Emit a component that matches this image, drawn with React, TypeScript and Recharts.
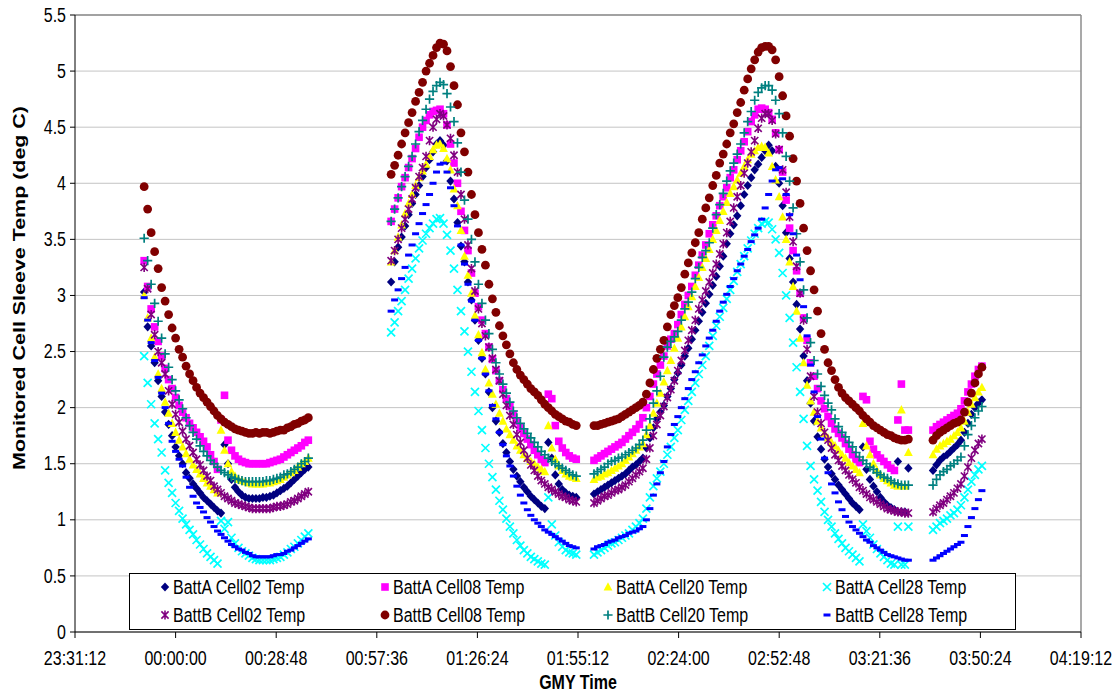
import { ScatterChart, Scatter, XAxis, YAxis, CartesianGrid, ReferenceLine } from 'recharts';

// x axis, minutes relative to 00:00:00 (23:31:12 is the day before)
const xTickLabels = ['23:31:12', '00:00:00', '00:28:48', '00:57:36', '01:26:24', '01:55:12', '02:24:00', '02:52:48', '03:21:36', '03:50:24', '04:19:12'];
const yTicks = [0, 0.5, 1, 1.5, 2, 2.5, 3, 3.5, 4, 4.5, 5, 5.5];

// four telemetry passes, one sample per minute
const segStart = [-9.0, 61.7, 119.78, 216.83];
const sampleStep = 1;

const battACell02 = [
  [3.03, 2.72, 2.55, 2.40, 2.24, 2.10, 1.96, 1.85, 1.75, 1.65, 1.57, 1.50, 1.42, 1.37, 1.32, 1.28, 1.24, 1.20, 1.17, 1.14, 1.11, 1.08, 1.06, 1.67, 1.50, 1.36, 1.29, 1.25, 1.22, 1.20, 1.19, 1.19, 1.19, 1.19, 1.20, 1.20, 1.21, 1.22, 1.24, 1.26, 1.28, 1.30, 1.33, 1.36, 1.39, 1.42, 1.45, 1.47],
  [3.12, 3.30, 3.43, 3.52, 3.62, 3.72, 3.82, 3.90, 3.98, 4.06, 4.14, 4.21, 4.28, 4.35, 4.38, 4.34, 4.20, 4.02, 3.86, 3.65, 3.44, 3.30, 3.12, 2.96, 2.78, 2.60, 2.44, 2.30, 2.14, 2.00, 1.88, 1.78, 1.68, 1.60, 1.52, 1.45, 1.39, 1.34, 1.29, 1.25, 1.21, 1.18, 1.15, 1.12, 1.10, 1.69, 1.55, 1.40, 1.32, 1.27, 1.24, 1.22, 1.21, 1.20],
  [1.23, 1.25, 1.27, 1.29, 1.31, 1.33, 1.35, 1.37, 1.39, 1.41, 1.44, 1.47, 1.49, 1.52, 1.55,
   1.64, 1.73, 1.82, 1.90, 1.96, 2.02, 2.10, 2.17, 2.25, 2.31, 2.38, 2.46, 2.53, 2.61, 2.69,
   2.77, 2.85, 2.93, 3.01, 3.09, 3.17, 3.26, 3.35, 3.46, 3.55, 3.63, 3.71, 3.80, 3.90, 3.98,
   4.05, 4.12, 4.17, 4.23, 4.29, 4.34, 4.29, 4.15, 4.00, 3.80, 3.56, 3.33, 3.12, 2.92, 2.70,
   2.46, 2.24, 2.04, 1.88, 1.74, 1.63, 1.54, 1.47, 1.41, 1.36, 1.31, 1.27, 1.23, 1.19, 1.15,
   1.12, 1.09, 1.65, 1.45, 1.36, 1.30, 1.25, 1.20, 1.16, 1.13, 1.11, 1.09, 1.52, 1.07, 1.07, 1.46],
  [1.44, 1.49, 1.53, 1.56, 1.58, 1.61, 1.64, 1.67, 1.71, 1.78, 1.86, 1.94, 2.00, 2.04, 2.07],
];

const battACell08 = [
  [3.31, 3.08, 2.88, 2.72, 2.59, 2.46, 2.35, 2.25, 2.17, 2.09, 2.02, 1.96, 1.91, 1.86, 1.82, 1.78, 1.74, 1.70, 1.65, 1.58, 1.52, 1.45, 1.89, 2.11, 1.71, 1.62, 1.57, 1.54, 1.52, 1.51, 1.50, 1.50, 1.50, 1.50, 1.50, 1.50, 1.51, 1.52, 1.53, 1.54, 1.56, 1.58, 1.60, 1.62, 1.64, 1.66, 1.69, 1.71],
  [3.66, 3.77, 3.87, 3.97, 4.05, 4.14, 4.22, 4.31, 4.41, 4.50, 4.56, 4.61, 4.64, 4.65, 4.66, 4.62, 4.52, 4.35, 4.18, 4.00, 3.75, 3.58, 3.40, 3.20, 3.02, 2.90, 2.78, 2.66, 2.54, 2.43, 2.33, 2.24, 2.16, 2.08, 2.01, 1.94, 1.88, 1.82, 1.77, 1.72, 1.67, 1.62, 1.58, 1.54, 1.51, 2.12, 2.08, 1.84, 1.70, 1.64, 1.60, 1.57, 1.55, 1.54],
  [1.53, 1.55, 1.57, 1.59, 1.61, 1.63, 1.65, 1.67, 1.69, 1.72, 1.75, 1.78, 1.81, 1.85, 1.91,
   2.00, 2.10, 2.21, 2.30, 2.38, 2.46, 2.55, 2.61, 2.66, 2.74, 2.83, 2.92, 3.00, 3.08, 3.18,
   3.27, 3.36, 3.45, 3.55, 3.63, 3.71, 3.80, 3.88, 3.96, 4.05, 4.12, 4.21, 4.29, 4.37, 4.46,
   4.55, 4.61, 4.66, 4.67, 4.66, 4.63, 4.57, 4.45, 4.30, 4.10, 3.85, 3.60, 3.40, 3.22, 3.02,
   2.80, 2.60, 2.40, 2.28, 2.17, 2.06, 1.99, 1.92, 1.86, 1.81, 1.77, 1.73, 1.68, 1.63, 1.58,
   1.54, 1.51, 2.10, 2.07, 1.70, 1.63, 1.58, 1.55, 1.52, 1.49, 1.46, 1.44, 1.89, 2.21, 1.80, 1.80],
  [1.80, 1.83, 1.85, 1.87, 1.89, 1.91, 1.93, 1.95, 1.99, 2.06, 2.14, 2.21, 2.28, 2.34, 2.37],
];

const battACell20 = [
  [3.00, 2.80, 2.62, 2.45, 2.30, 2.17, 2.05, 1.95, 1.86, 1.78, 1.71, 1.65, 1.59, 1.54, 1.49, 1.45, 1.41, 1.37, 1.33, 1.30, 1.27, 1.24, 1.80, 1.62, 1.50, 1.43, 1.39, 1.36, 1.35, 1.34, 1.33, 1.32, 1.32, 1.32, 1.32, 1.33, 1.33, 1.34, 1.35, 1.36, 1.38, 1.40, 1.42, 1.44, 1.47, 1.50, 1.52, 1.55],
  [3.30, 3.40, 3.52, 3.63, 3.73, 3.82, 3.90, 3.98, 4.05, 4.11, 4.17, 4.24, 4.30, 4.34, 4.35, 4.31, 4.22, 4.12, 3.95, 3.80, 3.58, 3.35, 3.18, 3.02, 2.82, 2.65, 2.49, 2.34, 2.22, 2.12, 2.03, 1.95, 1.88, 1.81, 1.76, 1.71, 1.66, 1.62, 1.58, 1.55, 1.52, 1.50, 1.47, 1.45, 1.43, 1.84, 1.64, 1.54, 1.48, 1.44, 1.41, 1.39, 1.38, 1.37],
  [1.36, 1.38, 1.39, 1.41, 1.42, 1.44, 1.46, 1.48, 1.50, 1.53, 1.56, 1.59, 1.62, 1.65, 1.68,
   1.76, 1.84, 1.95, 2.04, 2.13, 2.23, 2.33, 2.42, 2.53, 2.62, 2.72, 2.81, 2.90, 2.99, 3.08,
   3.16, 3.25, 3.33, 3.41, 3.50, 3.58, 3.67, 3.75, 3.83, 3.91, 3.97, 4.03, 4.09, 4.15, 4.21,
   4.26, 4.29, 4.32, 4.33, 4.32, 4.27, 4.15, 4.03, 3.88, 3.70, 3.50, 3.30, 3.08, 2.86, 2.62,
   2.40, 2.20, 2.06, 1.96, 1.88, 1.82, 1.77, 1.73, 1.69, 1.66, 1.62, 1.58, 1.55, 1.51, 1.48,
   1.45, 1.42, 1.86, 1.66, 1.58, 1.50, 1.44, 1.40, 1.37, 1.35, 1.33, 1.31, 1.30, 1.98, 1.30, 1.60],
  [1.58, 1.63, 1.66, 1.68, 1.70, 1.72, 1.75, 1.78, 1.82, 1.88, 1.96, 2.03, 2.09, 2.14, 2.18],
];

const battACell28 = [
  [2.46, 2.22, 2.03, 1.86, 1.72, 1.60, 1.44, 1.33, 1.24, 1.15, 1.08, 1.01, 0.96, 0.91, 0.87, 0.82, 0.78, 0.74, 0.70, 0.67, 0.64, 0.61, 0.99, 0.92, 0.98, 0.84, 0.79, 0.75, 0.72, 0.70, 0.68, 0.66, 0.65, 0.64, 0.64, 0.64, 0.64, 0.65, 0.66, 0.67, 0.69, 0.71, 0.74, 0.76, 0.79, 0.82, 0.85, 0.88],
  [2.67, 2.76, 2.86, 2.95, 3.05, 3.15, 3.24, 3.33, 3.42, 3.49, 3.55, 3.60, 3.64, 3.68, 3.69, 3.64, 3.54, 3.40, 3.24, 3.05, 2.86, 2.68, 2.50, 2.32, 2.14, 1.97, 1.80, 1.64, 1.50, 1.38, 1.27, 1.17, 1.09, 1.01, 0.94, 0.88, 0.82, 0.77, 0.73, 0.70, 0.67, 0.65, 0.63, 0.61, 0.60, 1.20, 0.96, 0.86, 0.80, 0.76, 0.73, 0.71, 0.70, 0.69],
  [0.69, 0.71, 0.73, 0.75, 0.77, 0.79, 0.80, 0.82, 0.84, 0.86, 0.88, 0.91, 0.94, 0.97, 1.01,
   1.10, 1.20, 1.30, 1.37, 1.43, 1.50, 1.58, 1.65, 1.73, 1.80, 1.89, 1.98, 2.06, 2.14, 2.22,
   2.30, 2.38, 2.46, 2.55, 2.64, 2.73, 2.81, 2.89, 2.97, 3.05, 3.13, 3.21, 3.28, 3.35, 3.42,
   3.49, 3.55, 3.60, 3.64, 3.66, 3.65, 3.59, 3.50, 3.38, 3.20, 3.00, 2.80, 2.58, 2.36, 2.14,
   1.90, 1.66, 1.48, 1.36, 1.26, 1.16, 1.07, 1.00, 0.94, 0.88, 0.83, 0.79, 0.75, 0.72, 0.69,
   0.66, 0.63, 0.96, 0.90, 0.84, 0.78, 0.74, 0.70, 0.67, 0.64, 0.61, 0.60, 0.94, 0.60, 0.60, 0.94],
  [0.91, 0.94, 0.97, 0.99, 1.01, 1.04, 1.06, 1.09, 1.13, 1.20, 1.27, 1.34, 1.40, 1.45, 1.48],
];

const battBCell02 = [
  [3.25, 3.06, 2.83, 2.65, 2.50, 2.40, 2.30, 2.15, 2.03, 1.94, 1.87, 1.79, 1.72, 1.66, 1.60, 1.54, 1.49, 1.44, 1.39, 1.35, 1.30, 1.27, 1.24, 1.21, 1.19, 1.17, 1.15, 1.14, 1.13, 1.12, 1.11, 1.10, 1.10, 1.10, 1.10, 1.10, 1.10, 1.11, 1.12, 1.12, 1.13, 1.14, 1.16, 1.17, 1.19, 1.21, 1.23, 1.25],
  [3.31, 3.40, 3.50, 3.60, 3.68, 3.77, 3.86, 3.96, 4.06, 4.14, 4.24, 4.38, 4.50, 4.57, 4.62, 4.60, 4.52, 4.40, 4.25, 4.10, 3.90, 3.68, 3.45, 3.24, 3.04, 2.88, 2.75, 2.64, 2.54, 2.44, 2.34, 2.24, 2.12, 2.02, 1.93, 1.85, 1.76, 1.69, 1.62, 1.55, 1.49, 1.44, 1.39, 1.35, 1.32, 1.29, 1.27, 1.25, 1.23, 1.21, 1.20, 1.18, 1.17, 1.16],
  [1.15, 1.17, 1.19, 1.21, 1.22, 1.24, 1.26, 1.27, 1.29, 1.31, 1.34, 1.37, 1.40, 1.43, 1.46,
   1.54, 1.64, 1.75, 1.85, 1.93, 2.01, 2.09, 2.16, 2.24, 2.33, 2.42, 2.51, 2.60, 2.69, 2.78,
   2.88, 2.96, 3.04, 3.12, 3.20, 3.28, 3.37, 3.46, 3.56, 3.66, 3.78, 3.88, 3.98, 4.09, 4.18,
   4.28, 4.38, 4.49, 4.58, 4.62, 4.62, 4.56, 4.44, 4.30, 4.12, 3.92, 3.70, 3.48, 3.26, 3.02,
   2.78, 2.52, 2.28, 2.10, 1.96, 1.86, 1.78, 1.71, 1.64, 1.58, 1.53, 1.48, 1.44, 1.40, 1.36,
   1.33, 1.29, 1.26, 1.23, 1.20, 1.18, 1.16, 1.14, 1.12, 1.10, 1.09, 1.08, 1.07, 1.07, 1.06, 1.06],
  [1.07, 1.10, 1.13, 1.15, 1.18, 1.21, 1.24, 1.28, 1.32, 1.39, 1.47, 1.55, 1.62, 1.68, 1.72],
];

const battBCell08 = [
  [3.97, 3.77, 3.56, 3.39, 3.24, 3.07, 2.95, 2.83, 2.71, 2.62, 2.52, 2.45, 2.37, 2.30, 2.24, 2.18, 2.13, 2.09, 2.05, 2.01, 1.97, 1.93, 1.90, 1.87, 1.85, 1.83, 1.81, 1.80, 1.79, 1.78, 1.77, 1.77, 1.78, 1.77, 1.78, 1.78, 1.77, 1.78, 1.79, 1.80, 1.80, 1.82, 1.83, 1.85, 1.86, 1.88, 1.89, 1.91],
  [4.08, 4.16, 4.25, 4.35, 4.45, 4.54, 4.63, 4.73, 4.81, 4.90, 5.00, 5.07, 5.14, 5.21, 5.25, 5.24, 5.18, 5.04, 4.87, 4.70, 4.45, 4.28, 4.10, 3.90, 3.72, 3.56, 3.41, 3.27, 3.10, 2.97, 2.85, 2.73, 2.64, 2.56, 2.48, 2.40, 2.34, 2.29, 2.25, 2.21, 2.17, 2.14, 2.11, 2.07, 2.03, 2.00, 1.97, 1.94, 1.92, 1.90, 1.88, 1.87, 1.85, 1.84],
  [1.84, 1.84, 1.85, 1.86, 1.87, 1.88, 1.89, 1.90, 1.92, 1.94, 1.96, 1.98, 2.00, 2.02, 2.05,
   2.12, 2.22, 2.34, 2.44, 2.52, 2.60, 2.72, 2.83, 2.91, 2.98, 3.07, 3.19, 3.29, 3.38, 3.47,
   3.56, 3.68, 3.78, 3.87, 3.98, 4.07, 4.18, 4.26, 4.35, 4.45, 4.53, 4.63, 4.72, 4.83, 4.93,
   5.02, 5.10, 5.17, 5.21, 5.22, 5.22, 5.19, 5.10, 4.95, 4.78, 4.60, 4.42, 4.22, 4.02, 3.82,
   3.60, 3.40, 3.22, 3.05, 2.86, 2.66, 2.52, 2.40, 2.33, 2.25, 2.18, 2.13, 2.09, 2.06, 2.03,
   2.00, 1.97, 1.93, 1.90, 1.87, 1.84, 1.82, 1.80, 1.78, 1.76, 1.75, 1.73, 1.72, 1.71, 1.71, 1.72],
  [1.71, 1.75, 1.78, 1.80, 1.82, 1.84, 1.86, 1.87, 1.89, 1.96, 2.05, 2.13, 2.22, 2.30, 2.36],
];

const battBCell20 = [
  [3.51, 3.31, 3.10, 2.93, 2.77, 2.62, 2.48, 2.36, 2.25, 2.15, 2.07, 1.99, 1.91, 1.84, 1.78, 1.72, 1.66, 1.61, 1.57, 1.53, 1.50, 1.47, 1.44, 1.42, 1.40, 1.38, 1.37, 1.36, 1.35, 1.34, 1.34, 1.34, 1.34, 1.34, 1.34, 1.35, 1.35, 1.36, 1.37, 1.38, 1.40, 1.41, 1.43, 1.45, 1.47, 1.50, 1.52, 1.55],
  [3.66, 3.77, 3.87, 3.97, 4.06, 4.15, 4.24, 4.35, 4.46, 4.56, 4.66, 4.75, 4.82, 4.87, 4.90, 4.88, 4.80, 4.68, 4.55, 4.36, 4.10, 3.85, 3.68, 3.50, 3.30, 3.10, 2.93, 2.78, 2.66, 2.52, 2.40, 2.30, 2.21, 2.13, 2.05, 1.97, 1.91, 1.86, 1.81, 1.77, 1.73, 1.69, 1.65, 1.61, 1.58, 1.55, 1.52, 1.50, 1.48, 1.46, 1.44, 1.42, 1.40, 1.39],
  [1.41, 1.43, 1.45, 1.47, 1.50, 1.52, 1.53, 1.55, 1.56, 1.58, 1.60, 1.62, 1.64, 1.67, 1.71,
   1.80, 1.90, 2.04, 2.15, 2.28, 2.45, 2.54, 2.59, 2.63, 2.68, 2.78, 2.88, 2.94, 3.03, 3.15,
   3.25, 3.34, 3.40, 3.47, 3.60, 3.72, 3.81, 3.91, 4.02, 4.11, 4.18, 4.26, 4.35, 4.45, 4.55,
   4.64, 4.74, 4.81, 4.85, 4.87, 4.87, 4.83, 4.74, 4.62, 4.45, 4.24, 4.02, 3.78, 3.55, 3.30,
   3.05, 2.80, 2.58, 2.42, 2.30, 2.19, 2.11, 2.04, 1.98, 1.90, 1.83, 1.78, 1.74, 1.69, 1.65,
   1.60, 1.56, 1.53, 1.50, 1.47, 1.45, 1.42, 1.40, 1.38, 1.37, 1.35, 1.33, 1.32, 1.31, 1.31, 1.31],
  [1.31, 1.36, 1.40, 1.43, 1.45, 1.48, 1.50, 1.53, 1.56, 1.66, 1.76, 1.84, 1.91, 1.97, 2.01],
];

const battBCell28 = [
  [2.98, 2.78, 2.58, 2.42, 2.27, 2.13, 2.00, 1.86, 1.70, 1.61, 1.54, 1.48, 1.38, 1.29, 1.21, 1.15, 1.11, 1.07, 1.02, 0.98, 0.94, 0.90, 0.87, 0.84, 0.81, 0.78, 0.76, 0.74, 0.73, 0.71, 0.70, 0.68, 0.67, 0.67, 0.67, 0.67, 0.67, 0.68, 0.69, 0.69, 0.70, 0.72, 0.73, 0.75, 0.77, 0.79, 0.81, 0.83],
  [2.86, 2.96, 3.05, 3.15, 3.25, 3.36, 3.45, 3.55, 3.64, 3.73, 3.81, 3.90, 4.00, 4.10, 4.17, 4.18, 4.10, 3.96, 3.80, 3.62, 3.45, 3.28, 3.10, 2.95, 2.78, 2.60, 2.44, 2.30, 2.15, 2.02, 1.90, 1.78, 1.67, 1.57, 1.48, 1.39, 1.30, 1.22, 1.15, 1.09, 1.04, 1.00, 0.97, 0.94, 0.91, 0.89, 0.87, 0.85, 0.83, 0.81, 0.79, 0.77, 0.76, 0.75],
  [0.74, 0.76, 0.77, 0.78, 0.80, 0.81, 0.82, 0.84, 0.85, 0.86, 0.88, 0.89, 0.90, 0.92, 0.94,
   1.00, 1.10, 1.22, 1.32, 1.42, 1.52, 1.65, 1.76, 1.85, 1.92, 2.00, 2.08, 2.17, 2.25, 2.32,
   2.40, 2.47, 2.55, 2.62, 2.69, 2.77, 2.86, 2.94, 3.01, 3.08, 3.15, 3.22, 3.28, 3.35, 3.41,
   3.48, 3.54, 3.60, 3.68, 3.78, 3.90, 4.02, 4.12, 4.14, 4.04, 3.90, 3.72, 3.55, 3.36, 3.14,
   2.90, 2.64, 2.38, 2.14, 1.92, 1.72, 1.55, 1.42, 1.32, 1.24, 1.16, 1.09, 1.03, 0.98, 0.94,
   0.91, 0.88, 0.85, 0.82, 0.80, 0.77, 0.75, 0.73, 0.71, 0.69, 0.68, 0.67, 0.66, 0.65, 0.64, 0.64],
  [0.64, 0.66, 0.68, 0.70, 0.72, 0.74, 0.76, 0.78, 0.80, 0.86, 0.94, 1.02, 1.10, 1.18, 1.26],
];

type Kind = 'diamond' | 'square' | 'triangle' | 'x' | 'star' | 'circle' | 'plus' | 'dash';

const series: { name: string; color: string; kind: Kind; values: number[][] }[] = [
  { name: 'BattA Cell02 Temp', color: '#000080', kind: 'diamond', values: battACell02 },
  { name: 'BattA Cell08 Temp', color: '#FF00FF', kind: 'square', values: battACell08 },
  { name: 'BattA Cell20 Temp', color: '#FFFF00', kind: 'triangle', values: battACell20 },
  { name: 'BattA Cell28 Temp', color: '#00FFFF', kind: 'x', values: battACell28 },
  { name: 'BattB Cell02 Temp', color: '#800080', kind: 'star', values: battBCell02 },
  { name: 'BattB Cell08 Temp', color: '#800000', kind: 'circle', values: battBCell08 },
  { name: 'BattB Cell20 Temp', color: '#008080', kind: 'plus', values: battBCell20 },
  { name: 'BattB Cell28 Temp', color: '#0000FF', kind: 'dash', values: battBCell28 },
];

const toMin = (s: string) => {
  const [h, m, sec] = s.split(':').map(Number);
  const v = h * 60 + m + sec / 60;
  return h >= 12 ? v - 1440 : v;
};
const xTicks = xTickLabels.map(toMin);

const pad = (n: number) => String(n).padStart(2, '0');
const fmtTime = (v: number) => {
  let s = Math.round(v * 60);
  s = ((s % 86400) + 86400) % 86400;
  return `${pad(Math.floor(s / 3600))}:${pad(Math.floor((s % 3600) / 60))}:${pad(s % 60)}`;
};

const toPoints = (segs: number[][]) =>
  segs.flatMap((seg, k) => seg.map((v, i) => ({ t: segStart[k] + i * sampleStep, v })));

const FONT = "'Liberation Sans', Arial, sans-serif";
const FS = 16;
const SY = 1.25; // text in the picture is a little stretched vertically

function Marker({ kind, cx, cy, color }: { kind: Kind; cx: number; cy: number; color: string }) {
  switch (kind) {
    case 'diamond':
      return <path d={`M${cx},${cy - 4.6}L${cx + 4.2},${cy}L${cx},${cy + 4.6}L${cx - 4.2},${cy}Z`} fill={color} />;
    case 'square':
      return <rect x={cx - 3.8} y={cy - 3.8} width={7.6} height={7.6} fill={color} />;
    case 'triangle':
      return <path d={`M${cx},${cy - 4.8}L${cx + 4.4},${cy + 3.6}L${cx - 4.4},${cy + 3.6}Z`} fill={color} />;
    case 'x':
      return <path d={`M${cx - 4},${cy - 4}L${cx + 4},${cy + 4}M${cx - 4},${cy + 4}L${cx + 4},${cy - 4}`} stroke={color} strokeWidth={1.7} />;
    case 'star':
      return (
        <path
          d={`M${cx - 3.6},${cy - 3.6}L${cx + 3.6},${cy + 3.6}M${cx - 3.6},${cy + 3.6}L${cx + 3.6},${cy - 3.6}M${cx},${cy - 4.6}L${cx},${cy + 4.6}`}
          stroke={color}
          strokeWidth={1.6}
        />
      );
    case 'circle':
      return <circle cx={cx} cy={cy} r={4.4} fill={color} />;
    case 'plus':
      return <path d={`M${cx - 4.6},${cy}L${cx + 4.6},${cy}M${cx},${cy - 4.6}L${cx},${cy + 4.6}`} stroke={color} strokeWidth={1.7} />;
    case 'dash':
      return <rect x={cx - 3.5} y={cy - 1.5} width={7} height={3} fill={color} />;
  }
  return null;
}

const XTick = (p: any) => (
  <text
    transform={`translate(${p.x},658) scale(1,${SY})`}
    textAnchor="middle"
    dominantBaseline="central"
    fontFamily={FONT}
    fontSize={FS}
    fill="#000"
  >
    {fmtTime(p.payload.value)}
  </text>
);

const YTick = (p: any) => (
  <text
    transform={`translate(66,${p.y}) scale(1,${SY})`}
    textAnchor="end"
    dominantBaseline="central"
    fontFamily={FONT}
    fontSize={FS}
    fill="#000"
  >
    {String(p.payload.value)}
  </text>
);

const legendCols = [165, 385, 608, 827];
const legendRows = [587, 615];

export default function App() {
  return (
    <div style={{ position: 'absolute', left: 0, top: 0, width: 1120, height: 693, background: '#fff' }}>
      <ScatterChart width={1120} height={693} margin={{ top: 15, right: 39, bottom: 0, left: 0 }}>
        <CartesianGrid horizontal vertical={false} stroke="#c4c4c4" />
        <XAxis
          type="number"
          dataKey="t"
          domain={[xTicks[0], xTicks[xTicks.length - 1]]}
          ticks={xTicks}
          height={61}
          tick={<XTick />}
          tickSize={6}
          axisLine={{ stroke: '#000' }}
          tickLine={{ stroke: '#000' }}
          interval={0}
        />
        <YAxis
          type="number"
          dataKey="v"
          domain={[0, 5.5]}
          ticks={yTicks}
          width={75}
          tick={<YTick />}
          tickSize={5}
          axisLine={{ stroke: '#000' }}
          tickLine={{ stroke: '#000' }}
          interval={0}
        />
        <ReferenceLine y={5.5} stroke="#8c8c8c" strokeWidth={1.5} />
        <ReferenceLine x={xTicks[xTicks.length - 1]} stroke="#8c8c8c" strokeWidth={1.5} />
        {series.map((s) => (
          <Scatter
            key={s.name}
            name={s.name}
            data={toPoints(s.values)}
            isAnimationActive={false}
            shape={(p: any) => <Marker kind={s.kind} cx={p.cx} cy={p.cy} color={s.color} />}
          />
        ))}
      </ScatterChart>
      <svg width={1120} height={693} style={{ position: 'absolute', left: 0, top: 0, pointerEvents: 'none' }}>
        <text
          transform={`translate(20,288) rotate(-90) scale(1.34,1)`}
          textAnchor="middle"
          dominantBaseline="central"
          fontFamily={FONT}
          fontWeight="bold"
          fontSize={FS}
        >
          Monitored Cell Sleeve Temp (deg C)
        </text>
        <text
          transform={`translate(578,682) scale(1,${SY})`}
          textAnchor="middle"
          dominantBaseline="central"
          fontFamily={FONT}
          fontWeight="bold"
          fontSize={FS}
        >
          GMY Time
        </text>
        <rect x={129.5} y={573.5} width={886} height={56} fill="#fff" stroke="#000" strokeWidth={1} />
        {series.map((s, i) => {
          const x = legendCols[i % 4];
          const y = legendRows[Math.floor(i / 4)];
          return (
            <g key={s.name}>
              <Marker kind={s.kind} cx={x} cy={y} color={s.color} />
              <text
                transform={`translate(${x + 8},${y}) scale(1,${SY})`}
                dominantBaseline="central"
                fontFamily={FONT}
                fontSize={FS}
              >
                {s.name}
              </text>
            </g>
          );
        })}
      </svg>
    </div>
  );
}
